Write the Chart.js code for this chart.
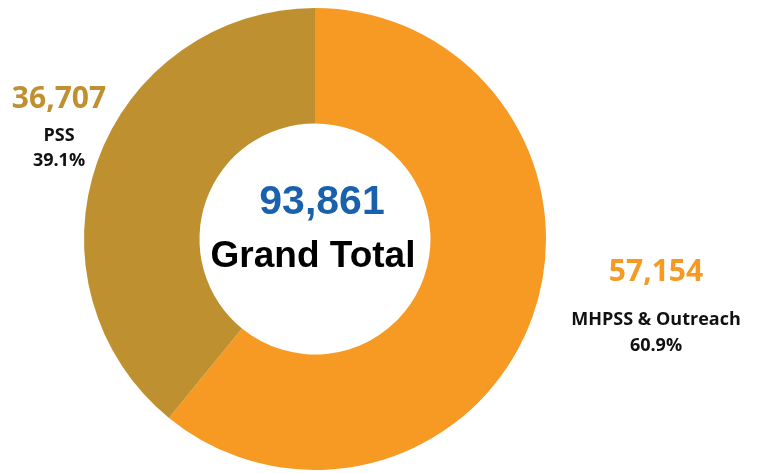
<!DOCTYPE html>
<html>
<head>
<meta charset="utf-8">
<script src="https://cdn.jsdelivr.net/npm/chart.js@4"></script>
<style>
html,body{margin:0;padding:0;background:#fff;}
#wrap{width:759px;height:473px;position:relative;}
</style>
</head>
<body>
<div id="wrap"><canvas id="c" width="759" height="473"></canvas></div>
<script>
const categories = ['MHPSS & Outreach', 'PSS'];
const values = [57154, 36707];
const colors = ['#F69A23', '#BF9030'];
const centerLabel = 'Grand Total';

const total = values.reduce((a, b) => a + b, 0);
const fmt = n => n.toLocaleString('en-US');
const pct = n => (n / total * 100).toFixed(1) + '%';

const labelPos = [
  {x: 656, y: 272, sub1: 320, sub2: 346},
  {x: 59, y: 99, sub1: 136, sub2: 161}
];

const textPlugin = {
  id: 'texts',
  afterDraw(chart) {
    const ctx = chart.ctx;
    const meta = chart.getDatasetMeta(0);
    const arc = meta.data[0];
    const cx = arc.x, cy = arc.y;
    ctx.save();
    ctx.textAlign = 'center';
    ctx.textBaseline = 'middle';
    ctx.fillStyle = '#1A61AD';
    ctx.font = 'bold 41px "Liberation Sans", Arial, sans-serif';
    ctx.fillText(fmt(total), cx + 7, cy - 36);
    ctx.fillStyle = '#000';
    ctx.font = 'bold 37px "Liberation Sans", Arial, sans-serif';
    ctx.fillText(centerLabel, cx - 2, cy + 18);
    categories.forEach((c, i) => {
      const p = labelPos[i];
      ctx.fillStyle = colors[i];
      ctx.font = 'bold 30px "Open Sans", sans-serif';
      ctx.fillText(fmt(values[i]), p.x, p.y);
      ctx.fillStyle = '#111';
      ctx.font = 'bold 18px "Open Sans", sans-serif';
      ctx.fillText(c, p.x, p.sub1);
      ctx.fillText(pct(values[i]), p.x, p.sub2);
    });
    ctx.restore();
  }
};

new Chart(document.getElementById('c'), {
  type: 'doughnut',
  data: {
    labels: categories,
    datasets: [{
      data: values,
      backgroundColor: colors,
      borderWidth: 0,
      hoverOffset: 0
    }]
  },
  options: {
    responsive: false,
    animation: false,
    cutout: '50%',
    layout: {padding: {left: 84, right: 213, top: 8, bottom: 3}},
    plugins: {legend: {display: false}, tooltip: {enabled: false}}
  },
  plugins: [textPlugin]
});
</script>
</body>
</html>
